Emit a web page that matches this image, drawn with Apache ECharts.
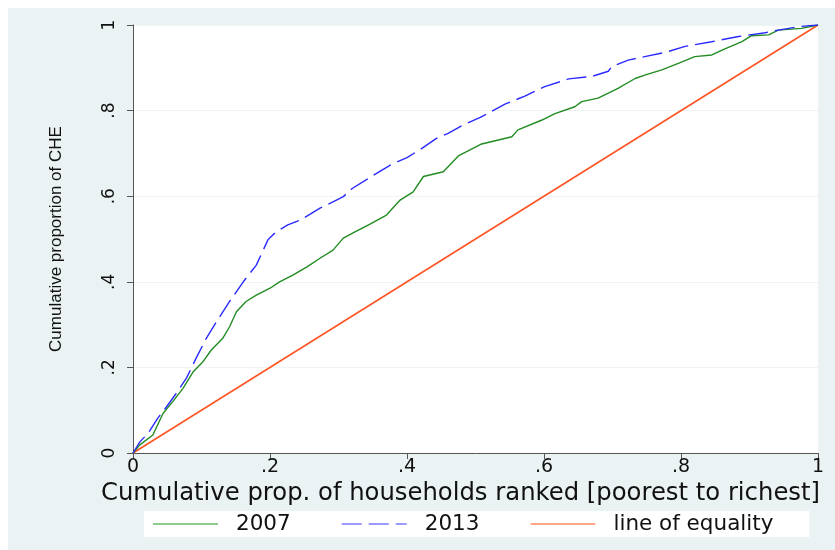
<!DOCTYPE html>
<html>
<head>
<meta charset="utf-8">
<script src="https://cdn.jsdelivr.net/npm/echarts@6/dist/echarts.min.js"></script>
<style>
  html, body { margin: 0; padding: 0; background: #ffffff; }
  #wrap { position: relative; width: 835px; height: 550px; overflow: hidden; }
  #chart { position: absolute; left: 8px; top: 8px; width: 827px; height: 542px; }
</style>
</head>
<body>
<div id="wrap"><div id="chart"></div></div>
<script>
// ---- data ----
const seriesNames = ['2007', '2013', 'line of equality'];
const tickLabels = ['0', '.2', '.4', '.6', '.8', '1'];

const x2007 = [0, .01, .029, .044, .058, .073, .088, .102, .114, .131, .141, .151, .165, .18, .2, .214, .234, .254, .273, .292, .307, .322, .346, .37, .39, .409, .424, .453, .475, .509, .553, .562, .597, .616, .645, .655, .679, .708, .733, .747, .772, .797, .82, .845, .864, .889, .903, .928, .942, .976, 1];
const y2007 = [0, .019, .042, .093, .12, .151, .19, .213, .24, .268, .295, .33, .354, .369, .385, .40, .416, .435, .455, .474, .502, .515, .535, .556, .591, .61, .646, .657, .694, .722, .739, .755, .778, .793, .809, .821, .829, .852, .875, .883, .895, .911, .926, .93, .944, .961, .975, .977, .988, .992, 1];

const x2013 = [0, .01, .022, .036, .049, .063, .078, .092, .107, .122, .141, .161, .18, .197, .209, .226, .244, .273, .292, .307, .32, .346, .378, .40, .42, .443, .46, .484, .507, .543, .572, .601, .636, .67, .694, .699, .723, .747, .777, .806, .845, .884, .923, .942, .971, 1];
const y2013 = [0, .026, .046, .081, .108, .139, .175, .221, .268, .307, .354, .40, .439, .498, .517, .533, .544, .572, .587, .599, .618, .644, .675, .69, .71, .735, .747, .768, .784, .815, .834, .856, .874, .88, .892, .903, .918, .926, .936, .95, .961, .973, .982, .988, .996, 1];

const xEq = [0, 1];
const yEq = [0, 1];

const colors = ['#228b22', '#2a2aff', '#ff5522'];
const legendColors = ['#8ccc8c', '#9a9aff', '#ffa888'];

const pairs = (xs, ys) => xs.map((x, i) => [x, ys[i]]);

const chart = echarts.init(document.getElementById('chart'), null, { renderer: 'canvas' });

const axisCommon = {
  type: 'value', min: 0, max: 1, interval: 0.2,
  axisLine: { show: true, onZero: false, lineStyle: { color: '#555555', width: 1 } },
  axisTick: { show: true, length: 6, lineStyle: { color: '#555555' } }
};

chart.setOption({
  backgroundColor: '#eaf2f3',
  animation: false,
  grid: {
    left: 125, right: 17, top: 17, bottom: 97,
    show: true, backgroundColor: '#ffffff', borderWidth: 0
  },
  xAxis: Object.assign({}, axisCommon, {
    name: 'Cumulative prop. of households ranked [poorest to richest]',
    nameLocation: 'middle',
    nameGap: 29,
    nameTextStyle: { fontFamily: 'DejaVu Sans', fontSize: 24.3, color: '#111111', padding: [0, 30, 0, 0] },
    axisLabel: {
      fontFamily: 'DejaVu Sans', fontSize: 19, color: '#111111', margin: 5,
      formatter: (v, i) => tickLabels[i]
    },
    splitLine: { show: false }
  }),
  yAxis: Object.assign({}, axisCommon, {
    name: 'Cumulative proportion of CHE',
    nameLocation: 'middle',
    nameGap: 68,
    nameRotate: 90,
    nameTextStyle: { fontFamily: "'Liberation Sans', Arial", fontSize: 17, color: '#111111' },
    axisLabel: {
      fontFamily: 'DejaVu Sans', fontSize: 17, color: '#111111', margin: 15, rotate: 90,
      formatter: (v, i) => tickLabels[i]
    },
    splitLine: { show: true, lineStyle: { color: '#eef3f3', width: 1 } }
  }),
  legend: {
    left: 136, top: 503,
    orient: 'horizontal',
    backgroundColor: '#ffffff',
    padding: [2, 36, 2, 8],
    itemWidth: 65, itemHeight: 14,
    itemGap: 50,
    textStyle: { fontFamily: 'DejaVu Sans', fontSize: 21.5, color: '#111111', padding: [0, 0, 0, 13] },
    data: seriesNames.map((n, i) => ({
      name: n,
      itemStyle: { opacity: 0 },
      lineStyle: { color: legendColors[i] }
    }))
  },
  series: [
    {
      name: seriesNames[0], type: 'line', data: pairs(x2007, y2007),
      symbol: 'none', lineStyle: { color: colors[0], width: 1.4 }, itemStyle: { color: colors[0] }, z: 3
    },
    {
      name: seriesNames[1], type: 'line', data: pairs(x2013, y2013),
      symbol: 'none', lineStyle: { color: colors[1], width: 1.4, type: [20, 7] }, itemStyle: { color: colors[1] }, z: 4
    },
    {
      name: seriesNames[2], type: 'line', data: pairs(xEq, yEq),
      symbol: 'none', lineStyle: { color: colors[2], width: 1.6 }, itemStyle: { color: colors[2] }, z: 2
    }
  ]
});
</script>
</body>
</html>
